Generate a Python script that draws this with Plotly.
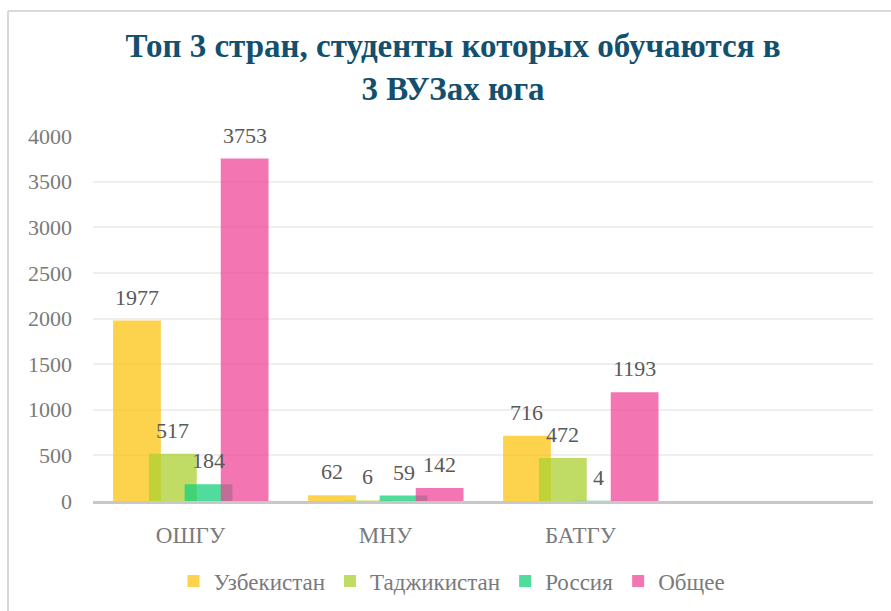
import plotly.graph_objects as go

categories = ["ОШГУ", "МНУ", "БАТГУ"]
series_names = ["Узбекистан", "Таджикистан", "Россия", "Общее"]
uzbekistan = [1977, 62, 716]
tajikistan = [517, 6, 472]
russia = [184, 59, 4]
total = [3753, 142, 1193]
y_ticks = [0, 500, 1000, 1500, 2000, 2500, 3000, 3500, 4000]

series_values = [uzbekistan, tajikistan, russia, total]
colors = ["rgba(252,195,16,0.75)", "rgba(172,208,50,0.75)",
          "rgba(22,208,121,0.75)", "rgba(238,65,150,0.72)"]
offsets = [-0.397, -0.213, -0.030, 0.155]
bar_w = 0.245

W, H = 891, 611
L, R, T, B = 93, 18, 136, 110
pw, ph = W - L - R, H - T - B

serif = "'Liberation Serif', 'Times New Roman', 'DejaVu Serif', serif"

fig = go.Figure()
for name, vals, col, off in zip(series_names, series_values, colors, offsets):
    fig.add_trace(go.Bar(
        x=categories, y=vals, name=name, marker_color=col,
        marker_line_width=0, offset=off, width=bar_w,
    ))
    for i, v in enumerate(vals):
        fig.add_annotation(
            x=i + off + bar_w / 2, y=v, xref="x", yref="y",
            text=str(v), showarrow=False, yanchor="bottom", yshift=9,
            font=dict(family=serif, size=22, color="#595959"),
        )

fig.update_layout(
    width=W, height=H,
    margin=dict(l=L, r=R, t=T, b=B, autoexpand=False),
    paper_bgcolor="white", plot_bgcolor="white",
    barmode="overlay",
    title=dict(
        text="<b>Топ 3 стран, студенты которых обучаются в<br>3 ВУЗах юга</b>",
        x=453 / W, xanchor="center", y=1 - 57 / H, yanchor="middle",
        font=dict(family=serif, size=33, color="#13506e"),
    ),
    showlegend=True,
    legend=dict(
        orientation="h", x=(452 - L) / pw, xanchor="center",
        yref="container", y=1 - 581 / H, yanchor="middle",
        font=dict(family=serif, size=23, color="#7a7a7a"),
        itemwidth=30, tracegroupgap=0, traceorder="normal",
    ),
    xaxis=dict(
        type="category", range=[-0.5, 3.5], showgrid=False,
        showline=True, linecolor="#c8c8c8", linewidth=3,
        ticks="", tickfont=dict(family=serif, size=23, color="#7a7a7a"),
        ticklabelstandoff=11, fixedrange=True, automargin=False,
    ),
    yaxis=dict(
        range=[0, 4000], tickvals=y_ticks, showgrid=True,
        gridcolor="#efefef", gridwidth=2, zeroline=False, showline=False,
        tickfont=dict(family=serif, size=22, color="#7a7a7a"),
        ticklabelstandoff=20, automargin=False,
    ),
)

# chart frame (light gray border at top/left)
x0 = (8 - L) / pw
y0 = (T + ph - 11) / ph
fig.add_shape(type="line", xref="paper", yref="paper", x0=x0, x1=x0,
              y0=y0, y1=-1, line=dict(color="#d9d9d9", width=2))
fig.add_shape(type="line", xref="paper", yref="paper", x0=x0, x1=2,
              y0=y0, y1=y0, line=dict(color="#d9d9d9", width=2))

fig.write_html("out.html", config={"displayModeBar": False},
               post_script="document.body.style.margin='0';document.body.style.padding='0';")
